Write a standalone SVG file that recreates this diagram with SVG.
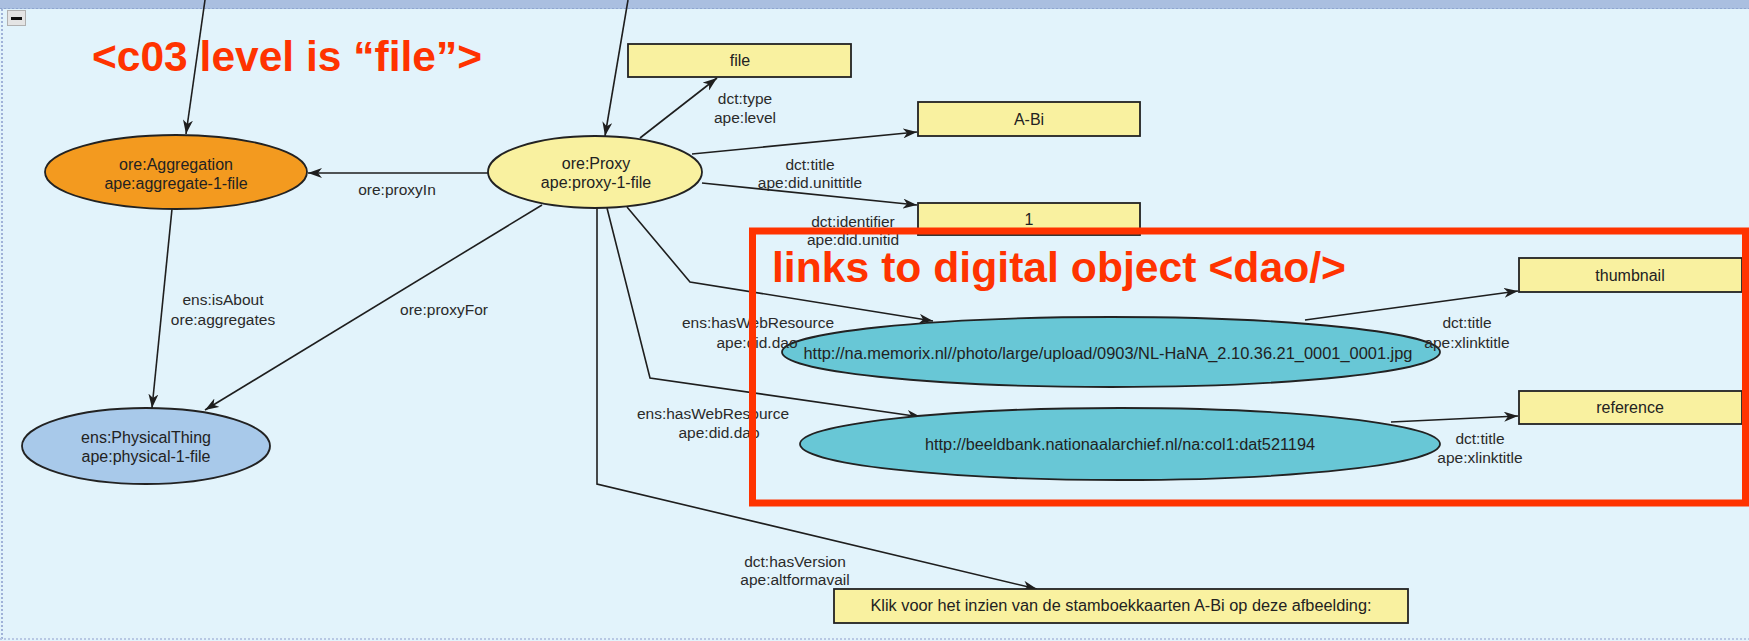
<svg xmlns="http://www.w3.org/2000/svg" width="1749" height="641" viewBox="0 0 1749 641">
<style>
.bg{fill:#e2f3fb}
.ln{fill:none;stroke:#1e1e1e;stroke-width:1.6}
.nd{stroke:#222;stroke-width:1.8}
.t{font-family:"Liberation Sans",Arial,Helvetica,sans-serif;font-size:16px;fill:#222;text-anchor:middle}
.lb{font-family:"Liberation Sans",Arial,Helvetica,sans-serif;font-size:15.5px;fill:#2a2a2a;text-anchor:middle}
.big{font-family:"Liberation Sans",Arial,Helvetica,sans-serif;font-size:42.5px;font-weight:bold;fill:#ff3300}
.yel{fill:#f9f1a0}
.teal{fill:#68c7d6}
</style>
<defs>
<marker id="arr" viewBox="0 0 14 10" refX="14" refY="5" markerWidth="14" markerHeight="10" markerUnits="userSpaceOnUse" orient="auto">
<path d="M0,0 L14,5 L0,10 L4,5 z" fill="#1e1e1e"/>
</marker>
</defs>
<rect class="bg" x="0" y="0" width="1749" height="641"/>
<g id="frame">
<rect x="0" y="0" width="1749" height="9" fill="#aabfe0"/>
<line x1="0" y1="8.5" x2="1749" y2="8.5" stroke="#8ea6cf" stroke-width="1" stroke-dasharray="2,2"/>
<line x1="2" y1="9" x2="2" y2="641" stroke="#a0b2d8" stroke-width="2" stroke-dasharray="2,2"/>
<line x1="0" y1="639" x2="1749" y2="639" stroke="#b8c8e4" stroke-width="2" stroke-dasharray="2,2"/>
<rect x="7.5" y="10.5" width="18" height="15" fill="#e4e4e4" stroke="#b0b0b0" stroke-width="1"/>
<rect x="11" y="17" width="11" height="3" fill="#111"/>
</g>
<g id="connectors">
<path class="ln" d="M205,0 L186,134" marker-end="url(#arr)"/>
<path class="ln" d="M628,0 L605,136" marker-end="url(#arr)"/>
<path class="ln" d="M488,173 L308,173" marker-end="url(#arr)"/>
<path class="ln" d="M172,209 L152,408" marker-end="url(#arr)"/>
<path class="ln" d="M542,205 L205,410" marker-end="url(#arr)"/>
<path class="ln" d="M640,138 L717,78" marker-end="url(#arr)"/>
<path class="ln" d="M692,154 L917,132" marker-end="url(#arr)"/>
<path class="ln" d="M702,183 L917,205" marker-end="url(#arr)"/>
<path class="ln" d="M627,207 L690,282 L933,321" marker-end="url(#arr)"/>
<path class="ln" d="M607,208 L650,378 L921,417" marker-end="url(#arr)"/>
<path class="ln" d="M597,208 L597,484 L1037,589" marker-end="url(#arr)"/>
<path class="ln" d="M1305,320 L1518,291" marker-end="url(#arr)"/>
<path class="ln" d="M1391,422 L1518,416" marker-end="url(#arr)"/>
</g>
<g id="node-aggregation">
<ellipse class="nd" cx="176" cy="172" rx="131" ry="37" fill="#f39a1f"/>
<text class="t" x="176" y="170">ore:Aggregation</text>
<text class="t" x="176" y="189">ape:aggregate-1-file</text>
</g>
<g id="node-proxy">
<ellipse class="nd" cx="595" cy="172" rx="107" ry="36" fill="#f9f1a0"/>
<text class="t" x="596" y="169">ore:Proxy</text>
<text class="t" x="596" y="188">ape:proxy-1-file</text>
</g>
<g id="node-physical">
<ellipse class="nd" cx="146" cy="446" rx="124" ry="38" fill="#a8c9ea"/>
<text class="t" x="146" y="443">ens:PhysicalThing</text>
<text class="t" x="146" y="462">ape:physical-1-file</text>
</g>
<g id="node-file">
<rect class="nd yel" x="628" y="44" width="223" height="33"/>
<text class="t" x="740" y="66">file</text>
</g>
<g id="node-abi">
<rect class="nd yel" x="918" y="102" width="222" height="34"/>
<text class="t" x="1029" y="125">A-Bi</text>
</g>
<g id="node-one">
<rect class="nd yel" x="918" y="203" width="222" height="32"/>
<text class="t" x="1029" y="225">1</text>
</g>
<g id="node-thumbnail">
<rect class="nd yel" x="1519" y="258" width="223" height="34"/>
<text class="t" x="1630" y="281">thumbnail</text>
</g>
<g id="node-reference">
<rect class="nd yel" x="1519" y="391" width="223" height="33"/>
<text class="t" x="1630" y="413">reference</text>
</g>
<g id="node-dao1">
<ellipse class="nd teal" cx="1111" cy="352" rx="329" ry="35"/>
<text class="t" x="1108" y="359" font-size="15" textLength="609" lengthAdjust="spacingAndGlyphs">http://na.memorix.nl//photo/large/upload/0903/NL-HaNA_2.10.36.21_0001_0001.jpg</text>
</g>
<g id="node-dao2">
<ellipse class="nd teal" cx="1120" cy="444" rx="320" ry="36"/>
<text class="t" x="1120" y="450" font-size="15" textLength="390" lengthAdjust="spacingAndGlyphs">http://beeldbank.nationaalarchief.nl/na:col1:dat521194</text>
</g>
<g id="node-version">
<rect class="nd yel" x="834" y="589" width="574" height="34"/>
<text class="t" x="1121" y="611" font-size="15.5" textLength="501" lengthAdjust="spacingAndGlyphs">Klik voor het inzien van de stamboekkaarten A-Bi op deze afbeelding:</text>
</g>
<g id="edge-labels">
<text class="lb" x="397" y="195">ore:proxyIn</text>
<text class="lb" x="223" y="305">ens:isAbout</text>
<text class="lb" x="223" y="325">ore:aggregates</text>
<text class="lb" x="444" y="315">ore:proxyFor</text>
<text class="lb" x="745" y="104">dct:type</text>
<text class="lb" x="745" y="123">ape:level</text>
<text class="lb" x="810" y="170">dct:title</text>
<text class="lb" x="810" y="188">ape:did.unittitle</text>
<text class="lb" x="853" y="227">dct:identifier</text>
<text class="lb" x="853" y="245">ape:did.unitid</text>
<text class="lb" x="758" y="328">ens:hasWebResource</text>
<text class="lb" x="757" y="348">ape:did.dao</text>
<text class="lb" x="713" y="419">ens:hasWebResource</text>
<text class="lb" x="719" y="438">ape:did.dao</text>
<text class="lb" x="795" y="567">dct:hasVersion</text>
<text class="lb" x="795" y="585">ape:altformavail</text>
<text class="lb" x="1467" y="328">dct:title</text>
<text class="lb" x="1467" y="348">ape:xlinktitle</text>
<text class="lb" x="1480" y="444">dct:title</text>
<text class="lb" x="1480" y="463">ape:xlinktitle</text>
</g>
<g id="annotations">
<text class="big" x="92" y="71" textLength="390" lengthAdjust="spacingAndGlyphs">&lt;c03 level is “file”&gt;</text>
<rect x="752.5" y="231" width="993" height="272" fill="none" stroke="#ff3300" stroke-width="7"/>
<text class="big" x="772" y="282" textLength="574" lengthAdjust="spacingAndGlyphs">links to digital object &lt;dao/&gt;</text>
</g>
</svg>
